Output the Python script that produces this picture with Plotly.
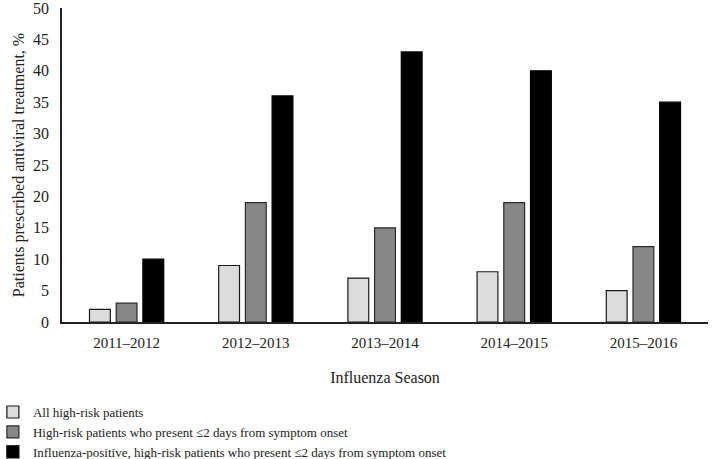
import plotly.graph_objects as go

seasons = ['2011–2012', '2012–2013', '2013–2014', '2014–2015', '2015–2016']
all_high_risk = [2, 9, 7, 8, 5]
present_2days = [3, 19, 15, 19, 12]
flu_positive = [10, 36, 43, 40, 35]

series_names = [
    'All high-risk patients',
    'High-risk patients who present ≤2 days from symptom onset',
    'Influenza-positive, high-risk patients who present ≤2 days from symptom onset',
]
series_values = [all_high_risk, present_2days, flu_positive]
fills = ['#dcdcdc', '#878787', '#000000']
outlines = ['#1a1a1a', '#2a2a2a', '#000000']

fig = go.Figure()
for i, (name, vals) in enumerate(zip(series_names, series_values)):
    fig.add_trace(go.Bar(
        x=seasons, y=vals, name=name,
        marker=dict(color=fills[i], line=dict(color=outlines[i], width=1.2)),
    ))

font = 'Liberation Serif, Times New Roman, serif'
fig.update_layout(
    width=712, height=459,
    margin=dict(l=62, r=4, t=8, b=137, autoexpand=False),
    paper_bgcolor='white', plot_bgcolor='white',
    font=dict(family=font, size=15, color='#222'),
    barmode='group', bargap=0.38, bargroupgap=0.22,
    legend=dict(x=-0.107, y=-0.239, xanchor='left', yanchor='top',
                font=dict(size=13), tracegroupgap=0, traceorder='normal'),
)
fig.update_xaxes(
    showline=True, linecolor='#222', linewidth=1.5, ticks='',
    tickfont=dict(size=15), ticklabelstandoff=6,
    title=dict(text='Influenza Season', font=dict(size=16), standoff=22),
)
fig.update_yaxes(
    range=[0, 50], dtick=5, showgrid=False, zeroline=False,
    showline=True, linecolor='#222', linewidth=1.5, ticks='',
    tickfont=dict(size=16), ticklabelstandoff=8, ticklabeloverflow='allow',
    title=dict(text='Patients prescribed antiviral treatment, %', font=dict(size=16), standoff=4),
)

# page body has a default 8px margin; drop it so the chart sits at the top-left
fig.write_html("out.html", config={'displayModeBar': False},
               post_script="document.body.style.margin='0';")
